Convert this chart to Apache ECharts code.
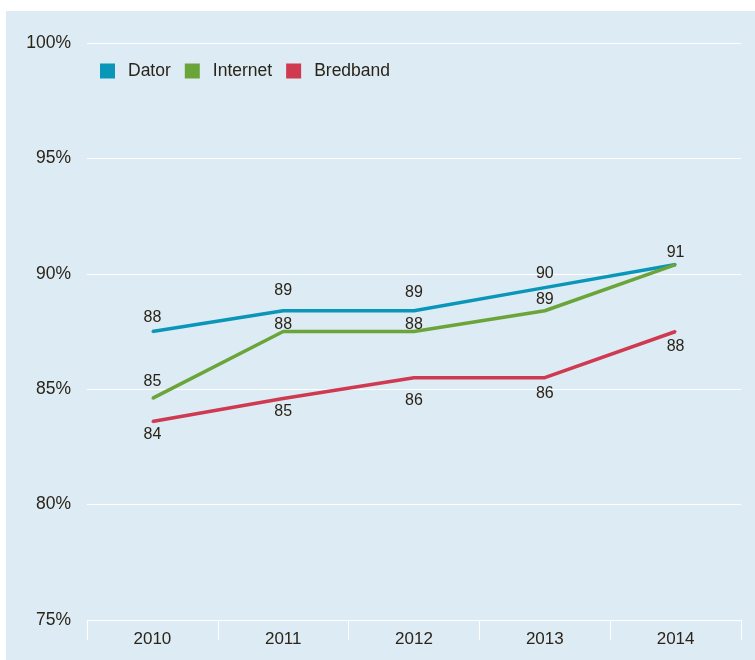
<!doctype html>
<html>
<head>
    <meta charset="utf-8">
    <title>Dator, Internet, Bredband</title>
    <style>
        html, body { margin: 0; padding: 0; background: #fff; }
        #chart { width: 755px; height: 660px; }
    </style>
</head>
<body>
<div id="chart"></div>
<script src="https://cdn.jsdelivr.net/npm/echarts@6/dist/echarts.min.js"></script>
<script>
    // data
    var years = ['2010', '2011', '2012', '2013', '2014'];
    var dator = [87.5, 88.4, 88.4, 89.4, 90.4];
    var internet = [84.6, 87.5, 87.5, 88.4, 90.4];
    var bredband = [83.6, 84.6, 85.5, 85.5, 87.5];
    // printed labels
    var datorLbl = ['88', '89', '89', '90', '91'];
    var internetLbl = ['85', '88', '88', '89', ''];
    var bredbandLbl = ['84', '85', '86', '86', '88'];

    var txt = '#2b2418';
    var font = 'Liberation Sans';

    function points(vals, lbls, pos, offs) {
        return vals.map(function (v, i) {
            return {
                value: v,
                label: {
                    show: lbls[i] !== '',
                    formatter: lbls[i],
                    position: pos,
                    offset: [0, offs[i]]
                }
            };
        });
    }

    function line(name, color, data) {
        return {
            name: name,
            type: 'line',
            data: data,
            symbol: 'circle',
            symbolSize: 2,
            itemStyle: { color: color },
            lineStyle: { color: color, width: 3.5 },
            label: { color: txt, fontSize: 16, fontFamily: font, distance: 5 },
            emphasis: { disabled: true }
        };
    }

    var chart = echarts.init(document.getElementById('chart'));
    chart.setOption({
        backgroundColor: '#ffffff',
        animation: false,
        graphic: [{
            type: 'rect', z: -10,
            shape: { x: 6, y: 11, width: 749, height: 649 },
            style: { fill: '#dcebf4' }
        }],
        legend: {
            left: 95, top: 57,
            icon: 'rect',
            itemWidth: 15, itemHeight: 15, itemGap: 14,
            textStyle: { color: txt, fontSize: 17.5, fontFamily: font, padding: [0, 0, 0, 8] },
            data: ['Dator', 'Internet', 'Bredband']
        },
        grid: { left: 87, right: 14, top: 43, bottom: 40 },
        xAxis: {
            type: 'category',
            data: years,
            axisLine: { lineStyle: { color: '#ffffff', width: 1 } },
            axisTick: { show: true, length: 20, lineStyle: { color: '#ffffff' } },
            axisLabel: { color: txt, fontSize: 17, fontFamily: font, margin: 11 }
        },
        yAxis: {
            type: 'value',
            min: 75, max: 100, interval: 5,
            axisLine: { show: false },
            axisTick: { show: false },
            axisLabel: { color: txt, fontSize: 17.5, fontFamily: font, margin: 16, formatter: '{value}%' },
            splitLine: { lineStyle: { color: '#ffffff', width: 1 } }
        },
        series: [
            line('Dator', '#0a96b9', points(dator, datorLbl, 'top', [0, -6, -4, 0, 2])),
            line('Internet', '#6ba53a', points(internet, internetLbl, 'top', [-3, 7, 7, 3, 0])),
            line('Bredband', '#cf3a50', points(bredband, bredbandLbl, 'bottom', [-1, -1, 9, 2, 1]))
        ]
    });
</script>
</body>
</html>
